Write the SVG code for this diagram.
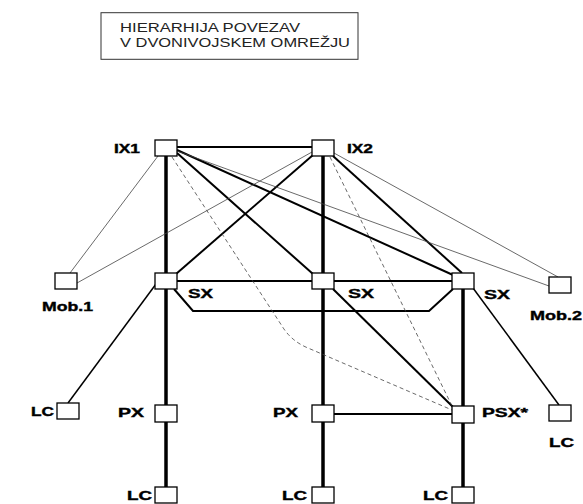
<svg xmlns="http://www.w3.org/2000/svg" width="583" height="504" viewBox="0 0 583 504">
<style>
.box{fill:#fff;stroke:#000;stroke-width:1.3}
.lbl{font-family:"Liberation Sans",Arial,sans-serif;font-weight:bold;font-size:13px;fill:#000;stroke:#000;stroke-width:0.4}
.ttl{font-family:"Liberation Sans",Arial,sans-serif;font-size:13px;fill:#222}
.vt{stroke:#000;stroke-width:3.5;fill:none}
.th{stroke:#000;stroke-width:2;fill:none}
.md{stroke:#000;stroke-width:1.5;fill:none}
.tn{stroke:#444;stroke-width:0.8;fill:none}
.ds{stroke:#444;stroke-width:0.8;fill:none;stroke-dasharray:4 3}
</style>
<rect width="583" height="504" fill="#fff"/>
<g id="title">
<rect x="101" y="12.7" width="257" height="46.6" fill="none" stroke="#333" stroke-width="1"/>
<text class="ttl" x="120" y="32" textLength="180" lengthAdjust="spacingAndGlyphs">HIERARHIJA POVEZAV</text>
<text class="ttl" x="120" y="46.7" textLength="230" lengthAdjust="spacingAndGlyphs">V DVONIVOJSKEM OMREŽJU</text>
</g>
<g id="connectors">
<line class="vt" x1="166" y1="156" x2="166" y2="487"/>
<line class="vt" x1="323" y1="156" x2="323" y2="487"/>
<line class="vt" x1="463" y1="289" x2="463" y2="487"/>
<line class="th" x1="177" y1="147" x2="312" y2="147"/>
<line class="th" x1="177" y1="281" x2="452" y2="281"/>
<line class="th" x1="334" y1="414" x2="452" y2="414"/>
<polyline class="th" points="174,289 193,311 429,311 453,289"/>
<line class="th" x1="177" y1="153" x2="313" y2="274"/>
<line class="th" x1="177" y1="150" x2="453" y2="275"/>
<line class="th" x1="313" y1="155" x2="176" y2="274"/>
<line class="th" x1="333" y1="156" x2="462" y2="273"/>
<line class="th" x1="333" y1="289" x2="453" y2="407"/>
<line class="md" x1="156" y1="284" x2="68" y2="403"/>
<line class="md" x1="473" y1="288" x2="559" y2="405"/>
<line class="tn" x1="158" y1="156" x2="70" y2="273"/>
<line class="tn" x1="312" y1="152" x2="77" y2="283"/>
<line class="tn" x1="177" y1="151" x2="549" y2="286"/>
<line class="tn" x1="334" y1="153" x2="558" y2="277"/>
<path class="ds" d="M172,157 L282,326 Q291,341 308,348 L452,410"/>
<line class="ds" x1="330" y1="157" x2="453" y2="408"/>
</g>
<g id="IX1"><rect class="box" x="155" y="140" width="22" height="16"/><text class="lbl" x="114" y="153" textLength="26" lengthAdjust="spacingAndGlyphs">IX1</text></g>
<g id="IX2"><rect class="box" x="312" y="140" width="22" height="16"/><text class="lbl" x="347" y="153" textLength="26" lengthAdjust="spacingAndGlyphs">IX2</text></g>
<g id="SX1"><rect class="box" x="155" y="273" width="22" height="16"/><text class="lbl" x="188" y="298" textLength="25" lengthAdjust="spacingAndGlyphs">SX</text></g>
<g id="SX2"><rect class="box" x="312" y="273" width="22" height="16"/><text class="lbl" x="348" y="298" textLength="26" lengthAdjust="spacingAndGlyphs">SX</text></g>
<g id="SX3"><rect class="box" x="452" y="273" width="22" height="16"/><text class="lbl" x="484" y="299" textLength="26" lengthAdjust="spacingAndGlyphs">SX</text></g>
<g id="Mob1"><rect class="box" x="55" y="273" width="22" height="16"/><text class="lbl" x="42" y="311" textLength="51" lengthAdjust="spacingAndGlyphs">Mob.1</text></g>
<g id="Mob2"><rect class="box" x="549" y="277" width="22" height="16"/><text class="lbl" x="530" y="320" textLength="52" lengthAdjust="spacingAndGlyphs">Mob.2</text></g>
<g id="LC_left"><rect class="box" x="57" y="403" width="22" height="16"/><text class="lbl" x="31" y="416" textLength="23" lengthAdjust="spacingAndGlyphs">LC</text></g>
<g id="PX1"><rect class="box" x="155" y="405" width="22" height="17"/><text class="lbl" x="118" y="417" textLength="26" lengthAdjust="spacingAndGlyphs">PX</text></g>
<g id="PX2"><rect class="box" x="312" y="405" width="22" height="17"/><text class="lbl" x="273" y="417" textLength="25" lengthAdjust="spacingAndGlyphs">PX</text></g>
<g id="PSX"><rect class="box" x="452" y="406" width="22" height="17"/><text class="lbl" x="482" y="417" textLength="46" lengthAdjust="spacingAndGlyphs">PSX*</text></g>
<g id="LC_right"><rect class="box" x="549" y="405" width="22" height="16"/><text class="lbl" x="549" y="447" textLength="25" lengthAdjust="spacingAndGlyphs">LC</text></g>
<g id="LC1"><rect class="box" x="155" y="487" width="22" height="16"/><text class="lbl" x="127" y="500" textLength="25" lengthAdjust="spacingAndGlyphs">LC</text></g>
<g id="LC2"><rect class="box" x="312" y="487" width="22" height="16"/><text class="lbl" x="282" y="500" textLength="25" lengthAdjust="spacingAndGlyphs">LC</text></g>
<g id="LC3"><rect class="box" x="452" y="487" width="22" height="16"/><text class="lbl" x="423" y="500" textLength="25" lengthAdjust="spacingAndGlyphs">LC</text></g>
</svg>
